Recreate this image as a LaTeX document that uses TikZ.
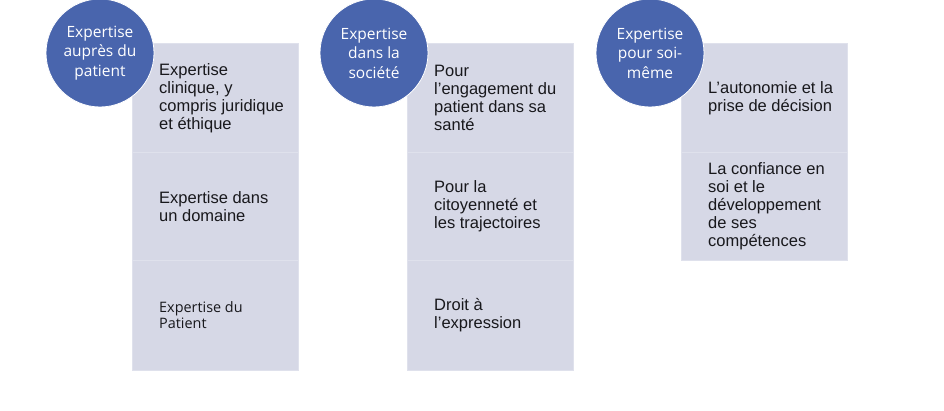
\documentclass[tikz,border=0pt]{standalone}
\usepackage{fontspec}
\setmainfont{Liberation Sans}
\newfontfamily\circfont{Open Sans}
\definecolor{circblue}{HTML}{4965AD}
\definecolor{boxfill}{HTML}{D6D8E6}
\definecolor{boxline}{HTML}{DFE1EC}
\definecolor{itemtext}{HTML}{18181C}
\tikzset{
  bubble/.style={circle, fill=circblue, draw=white, line width=0.8pt, minimum size=108pt,
    inner sep=0pt, text=white, align=center, font=\circfont\fontsize{15.5}{19.5}\selectfont},
  seg/.style={rectangle, fill=boxfill, draw=boxline, line width=0.8pt, minimum width=166pt,
    inner sep=0pt, anchor=north west},
  item/.style={anchor=west, align=left, inner sep=0pt, text=itemtext,
    font=\fontsize{16.5}{18}\selectfont},
}
\begin{document}
\begin{tikzpicture}[x=1pt, y=-1pt]
      \useasboundingbox (0,0) rectangle (944,411);

      \node[seg, minimum height=109pt] (s11) at (132,43) {};
      \node[seg, minimum height=108pt] (s12) at (132,152) {};
      \node[seg, minimum height=110pt] (s13) at (132,260) {};

      \node[seg, minimum height=109pt] (s21) at (407,43) {};
      \node[seg, minimum height=108pt] (s22) at (407,152) {};
      \node[seg, minimum height=110pt] (s23) at (407,260) {};

      \node[seg, minimum height=109pt] (s31) at (681,43) {};
      \node[seg, minimum height=108pt] (s32) at (681,152) {};

      \node[item] (e11) at ([xshift=27pt]s11.west) {Expertise\\clinique, y\\compris juridique\\et éthique};
      \node[item] (e12) at ([xshift=27pt]s12.west) {Expertise dans\\un domaine};
      \node[item, font=\circfont\fontsize{14.4}{16}\selectfont] (e13) at ([xshift=27pt]s13.west) {Expertise du\\Patient};

      \node[item] (e21) at ([xshift=27pt]s21.west) {Pour\\l’engagement du\\patient dans sa\\santé};
      \node[item] (e22) at ([xshift=27pt]s22.west) {Pour la\\citoyenneté et\\les trajectoires};
      \node[item] (e23) at ([xshift=27pt]s23.west) {Droit à\\l’expression};

      \node[item] (e31) at ([xshift=27pt]s31.west) {L’autonomie et la\\prise de décision};
      \node[item] (e32) at ([xshift=27pt]s32.west) {La confiance en\\soi et le\\développement\\de ses\\compétences};

      \node[bubble] (c1) at (100,53) {Expertise\\auprès du\\patient};
      \node[bubble] (c2) at (374,53) {Expertise\\dans la\\société};
      \node[bubble] (c3) at (650,53) {Expertise\\pour soi-\\même};
    \end{tikzpicture}
\end{document}
